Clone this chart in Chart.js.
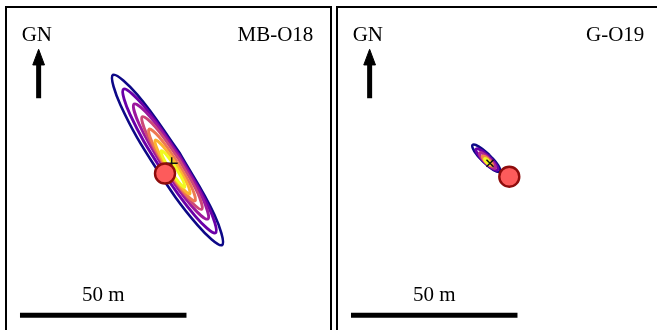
<!DOCTYPE html>
<html>
<head>
<meta charset="utf-8">
<script src="https://cdn.jsdelivr.net/npm/chart.js@4.4.1/dist/chart.umd.min.js"></script>
<style>
  html, body { margin: 0; padding: 0; background: #fff; overflow: hidden; width: 657px; height: 330px; }
  .panel { position: absolute; top: 6px; width: 323px; height: 324px; border: 2px solid #000; }
  #p1 { left: 5px; }
  #p2 { left: 336px; }
  canvas { display: block; }
</style>
</head>
<body>
<div class="panel" id="p1"><canvas id="c1" width="323" height="324"></canvas></div>
<div class="panel" id="p2"><canvas id="c2" width="323" height="324"></canvas></div>
<script>
// Map coordinates in metres (east, north) from the lower-left corner of each panel

// MB-O18 contour lines, outer to inner
const mbLevel1 = [[51.74,53.92],[62.29,35.20],[64.58,26.11],[57.29,32.00],[44.66,49.38],[34.11,68.10],[31.82,77.19],[39.11,71.30]];
const mbLevel2 = [[51.70,53.21],[60.63,37.44],[62.62,29.79],[56.53,34.80],[45.90,49.49],[36.97,65.26],[34.98,72.91],[41.07,67.90]];
const mbLevel3 = [[51.65,52.74],[58.78,40.09],[60.32,33.94],[55.38,37.91],[46.85,49.66],[39.72,62.31],[38.18,68.46],[43.12,64.49]];
const mbLevel4 = [[51.52,52.01],[57.24,41.82],[58.46,36.86],[54.46,40.04],[47.58,49.49],[41.86,59.68],[40.64,64.64],[44.64,61.46]];
const mbLevel5 = [[51.12,51.15],[55.55,43.24],[56.46,39.37],[53.33,41.82],[47.98,49.15],[43.55,57.06],[42.64,60.93],[45.77,58.48]];
const mbLevel6 = [[50.86,50.30],[54.19,44.37],[54.88,41.47],[52.55,43.31],[48.54,48.80],[45.21,54.73],[44.52,57.63],[46.85,55.79]];
const mbLevel7 = [[50.61,49.44],[52.87,45.42],[53.36,43.48],[51.79,44.74],[49.09,48.46],[46.83,52.48],[46.34,54.42],[47.91,53.16]];
const mbStation = [47.45, 47.6];
const mbPeak = [49.46, 50.66];

// G-O19 contour lines, outer to inner
const goLevel1 = [[45.49,53.15],[48.11,50.02],[48.63,48.15],[46.75,48.62],[43.57,51.17],[40.95,54.30],[40.43,56.17],[42.31,55.70]];
const goLevel2 = [[45.49,52.57],[47.55,50.13],[47.96,48.65],[46.49,49.03],[43.99,51.03],[41.93,53.47],[41.52,54.95],[42.99,54.57]];
const goLevel3 = [[45.48,52.10],[46.97,50.30],[47.25,49.19],[46.15,49.44],[44.30,50.90],[42.81,52.70],[42.53,53.81],[43.63,53.56]];
const goLevel4 = [[45.31,51.78],[46.25,50.61],[46.39,49.88],[45.65,50.01],[44.47,50.92],[43.53,52.09],[43.39,52.82],[44.13,52.69]];
const goLevel5 = [[45.16,51.48],[45.69,50.81],[45.75,50.36],[45.31,50.41],[44.62,50.92],[44.09,51.59],[44.03,52.04],[44.47,51.99]];
const goStation = [51.44, 46.64];
const goPeak = [45.65, 50.66];

const mbColors = ['#0d0887', '#6a00a8', '#9c179e', '#cc4778', '#ed7953', '#fdb42f', '#f0f921'];
const goColors = ['#0d0887', '#6a00a8', '#b12a90', '#f48849', '#f0f921'];

const scaleBarLength = 50; // metres

const toPts = arr => arr.map(p => ({ x: p[0], y: p[1] }));

const labelPlugin = {
    id: 'panelLabels',
    afterDatasetsDraw(chart, args, opts) {
        const { ctx, scales: { x, y } } = chart;
        ctx.save();
        ctx.font = '21px "Liberation Serif", serif';
        ctx.fillStyle = '#000';
        ctx.textBaseline = 'alphabetic';
        ctx.textAlign = 'left';
        ctx.fillText('GN', x.getPixelForValue(4.4), y.getPixelForValue(87.5));
        ctx.textAlign = 'right';
        ctx.fillText(opts.title, x.getPixelForValue(92.0), y.getPixelForValue(87.5));
        ctx.textAlign = 'center';
        ctx.fillText(scaleBarLength + ' m', x.getPixelForValue(3.9 + scaleBarLength / 2), y.getPixelForValue(9.2));
        ctx.restore();
    }
};

function makePanel(canvasId, title, levels, colors, station, peak, peakStyle) {
    const list = [];

    // scale bar
    list.push({
        data: [{ x: 3.9, y: 5 }, { x: 3.9 + scaleBarLength, y: 5 }],
        borderColor: '#000', borderWidth: 5, borderCapStyle: 'butt',
        showLine: true, pointRadius: 0
    });
    // north arrow
    list.push({
        data: [{ x: 9.5, y: 70.2 }, { x: 9.5, y: 81 }],
        borderColor: '#000', borderWidth: 5, borderCapStyle: 'butt',
        showLine: true, pointRadius: 0
    });
    list.push({
        data: [{ x: 9.5, y: 84.9 }, { x: 11.26, y: 80.2 }, { x: 7.74, y: 80.2 }, { x: 9.5, y: 84.9 }],
        borderColor: '#000', backgroundColor: '#000', borderWidth: 1,
        showLine: true, fill: 'shape', pointRadius: 0
    });

    levels.forEach((lvl, i) => {
        const pts = toPts(lvl);
        pts.push(pts[0]);
        list.push({
            data: pts,
            borderColor: colors[i], borderWidth: i === 0 ? 2.6 : 2.9,
            showLine: true, tension: 0.4, fill: false, pointRadius: 0
        });
    });

    list.push({
        data: [{ x: peak[0], y: peak[1] }],
        pointStyle: peakStyle, pointRadius: peakStyle === 'cross' ? 6 : 5,
        borderColor: '#111', borderWidth: 1.5, backgroundColor: '#111'
    });
    list.push({
        data: [{ x: station[0], y: station[1] }],
        pointStyle: 'circle', pointRadius: 10,
        backgroundColor: '#fd5b5b', borderColor: '#8e0c0c', borderWidth: 2.4
    });

    // first dataset drawn at the back
    list.forEach((d, i) => { d.order = list.length - i; });

    return new Chart(document.getElementById(canvasId), {
        type: 'scatter',
        data: { datasets: list },
        options: {
            responsive: false,
            animation: false,
            events: [],
            layout: { padding: 0, autoPadding: false },
            plugins: {
                legend: { display: false },
                tooltip: { enabled: false },
                panelLabels: { title: title }
            },
            scales: {
                x: { type: 'linear', min: 0, max: 97, display: false },
                y: { type: 'linear', min: 0, max: 97.3, display: false }
            }
        },
        plugins: [labelPlugin]
    });
}

makePanel('c1', 'MB-O18',
    [mbLevel1, mbLevel2, mbLevel3, mbLevel4, mbLevel5, mbLevel6, mbLevel7],
    mbColors, mbStation, mbPeak, 'cross');
makePanel('c2', 'G-O19',
    [goLevel1, goLevel2, goLevel3, goLevel4, goLevel5],
    goColors, goStation, goPeak, 'crossRot');
</script>
</body>
</html>
